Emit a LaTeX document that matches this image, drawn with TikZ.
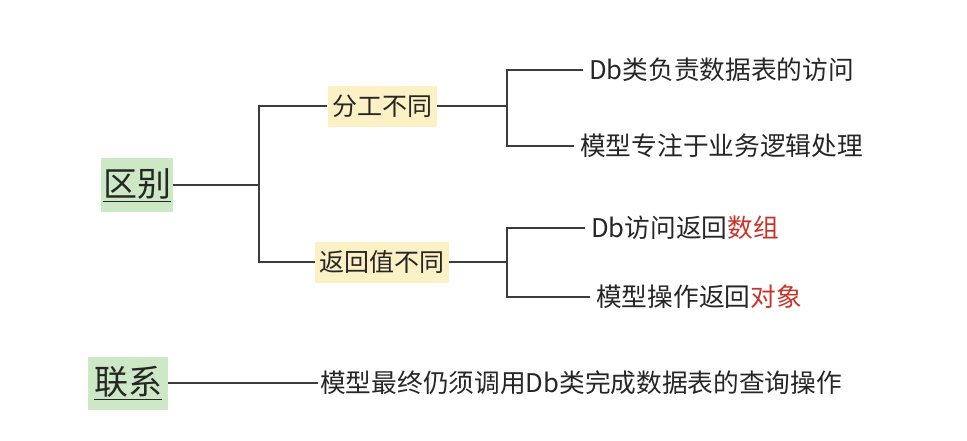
\documentclass[tikz,border=0pt]{standalone}
\usepackage{fontspec}
\setmainfont{Noto Sans CJK SC}
\usetikzlibrary{positioning}
\definecolor{rootgreen}{HTML}{CDE8C4}
\definecolor{midyellow}{HTML}{FCF0C5}
\definecolor{ink}{HTML}{262626}
\definecolor{hired}{HTML}{C8342A}
\tikzset{
    root/.style={fill=rootgreen, text=ink, inner sep=0pt, font=\fontsize{34}{36}\selectfont},
    mid/.style={fill=midyellow, text=ink, inner sep=0pt, minimum height=41pt, font=\fontsize{25}{28}\selectfont},
    leaf/.style={anchor=west, text=ink, inner xsep=6pt, inner ysep=0pt, font=\fontsize{25.7}{28}\selectfont},
    branch/.style={draw=ink!90, line width=1.6pt}
}
\begin{document}
\begin{tikzpicture}[x=1pt, y=-1pt]
    \useasboundingbox[fill=white] (0,0) rectangle (967,440);
    % first level
    \node[root, minimum width=72pt, minimum height=54pt] (qubie) at (137,185) {\underline{区别}};
    \node[root, minimum width=80pt, minimum height=53pt] (lianxi) at (128,383) {\underline{联系}};
    % second level
    \node[mid, minimum width=109pt] (fengong) at (382,106) {分工不同};
    \node[mid, minimum width=134pt] (fanhui) at (382,262) {返回值不同};
    % leaves
    \node[leaf] (dbfangwen) at (583,70) {Db类负责数据表的访问};
    \node[leaf] (moxingzhuan) at (574,146) {模型专注于业务逻辑处理};
    \node[leaf] (dbshuzu) at (585,228) {Db访问返回\textcolor{hired}{数组}};
    \node[leaf] (moxingduix) at (590,297) {模型操作返回\textcolor{hired}{对象}};
    \node[leaf, inner xsep=2pt] (chaxun) at (318,383) {模型最终仍须调用Db类完成数据表的查询操作};
    % joints
    \coordinate (jroot) at (259,185);
    \coordinate (jfen) at (507,106);
    \coordinate (jfan) at (507,262);
    % connectors
    \draw[branch] (qubie.east) -- (jroot) |- (fengong.west);
    \draw[branch] (jroot) |- (fanhui.west);
    \draw[branch] (fengong.east) -- (jfen) |- (dbfangwen.west);
    \draw[branch] (jfen) |- (moxingzhuan.west);
    \draw[branch] (fanhui.east) -- (jfan) |- (dbshuzu.west);
    \draw[branch] (jfan) |- (moxingduix.west);
    \draw[branch] (lianxi.east) -- (chaxun.west);
\end{tikzpicture}
\end{document}
